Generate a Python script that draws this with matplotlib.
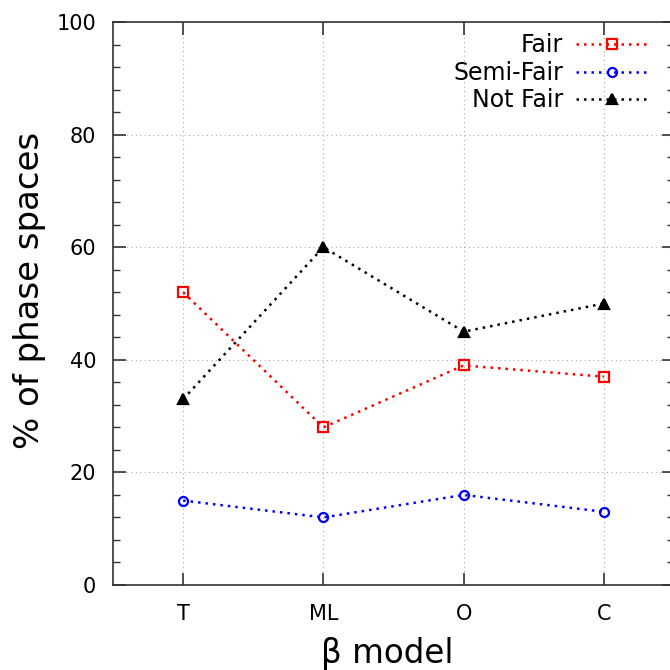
import numpy as np
import matplotlib
matplotlib.use("Agg")
import matplotlib.pyplot as plt
from matplotlib.ticker import MultipleLocator

# dados
modelos = ["T", "ML", "O", "C"]
fair = [52, 28, 39, 37]
semi_fair = [15, 12, 16, 13]
not_fair = [33, 60, 45, 50]

series = [
    ("Fair", fair, "red", "s", "none"),
    ("Semi-Fair", semi_fair, "blue", "o", "none"),
    ("Not Fair", not_fair, "black", "^", "black"),
]

fig = plt.figure(figsize=(6.7, 6.7), dpi=100)
ax = fig.add_axes([113 / 670, 85 / 670, 561 / 670, 563 / 670])

x = np.arange(1, len(modelos) + 1)
for nome, vals, cor, mk, face in series:
    ax.plot(x, vals, color=cor, linestyle=(0, (1, 2.0)), linewidth=1.8,
            marker=mk, markersize=6.5, markerfacecolor=face,
            markeredgecolor=cor, markeredgewidth=1.6, label=nome)

ax.set_xlim(0.5, 4.5)
ax.set_ylim(0, 100)
ax.set_xticks(x)
ax.set_xticklabels(modelos)
ax.yaxis.set_major_locator(MultipleLocator(20))
ax.yaxis.set_minor_locator(MultipleLocator(4))

ax.tick_params(which="both", direction="in", top=True, right=True,
               labelsize=15, pad=12, color="#333333")
ax.tick_params(which="major", length=9, width=1.2)
ax.tick_params(which="minor", length=5, width=1.0)
ax.tick_params(axis="x", pad=13.5)

for s in ax.spines.values():
    s.set_color("#333333")
    s.set_linewidth(1.2)

ax.grid(True, which="major", color="#aaaaaa", linestyle=(0, (1, 3)), linewidth=0.8)

ax.set_xlabel("β model", fontsize=23.5)
ax.set_ylabel("% of phase spaces", fontsize=24.5)
ax.xaxis.set_label_coords(0.488, -0.093)
ax.yaxis.set_label_coords(-0.1195, 0.524)

ax.legend(loc="upper right", bbox_to_anchor=(0.985, 1.009), frameon=False,
          markerfirst=False, fontsize=17, handlelength=3.1,
          handletextpad=0.55, labelspacing=0.14, borderaxespad=0.3)

fig.savefig("out.png", dpi=100)
